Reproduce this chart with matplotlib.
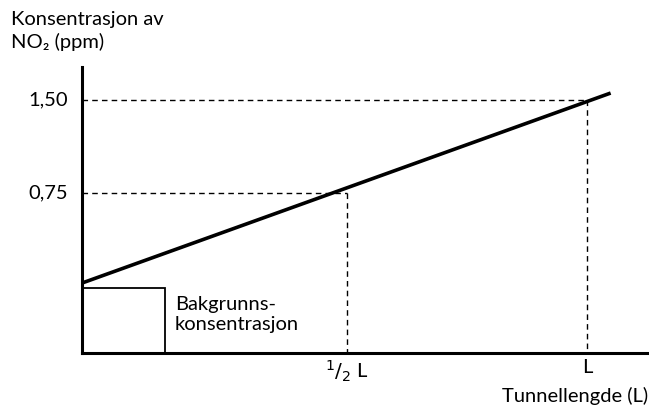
import matplotlib
matplotlib.use("Agg")
import matplotlib.pyplot as plt
from matplotlib.patches import Rectangle

plt.rcParams['font.family'] = ['Lato', 'DejaVu Sans']

# Data (x in units of tunnel length L, y in ppm)
line_x = [0.0, 1.047]
line_y = [0.024, 1.556]
y_ticks = [0.75, 1.50]
y_tick_labels = ["0,75", "1,50"]
x_marks = [0.525, 1.0]
x_mark_labels = ["$^1/_2$ L", "L"]
background_width = 0.164
background_top = -0.016

FS = 14.5

fig = plt.figure(figsize=(6.49, 4.09), dpi=100)
ax = fig.add_axes([82/649, (409-353)/409, 566/649, 286/409])
ax.set_xlim(0, 1.121)
ax.set_ylim(-0.54, 1.766)

for s in ['top', 'right']:
    ax.spines[s].set_visible(False)
for s in ['left', 'bottom']:
    ax.spines[s].set_linewidth(2.2)
ax.set_xticks([])
ax.set_yticks([])

ax.plot(line_x, line_y, color='black', lw=2.6, solid_capstyle='butt')

# Dashed guides
for xm, yt in zip(x_marks, y_ticks):
    ax.plot([0, xm], [yt, yt], color='black', lw=1.0, ls=(0, (4, 3)))
    ax.plot([xm, xm], [yt, -0.54], color='black', lw=1.0, ls=(0, (4, 3)))

ax.add_patch(Rectangle((0, -0.54), background_width, background_top + 0.54,
                       fill=False, edgecolor='black', lw=1.3))
ax.text(0.184, -0.08, "Bakgrunns-\nkonsentrasjon", ha='left', va='top',
        fontsize=FS, linespacing=1.2)

for yt, lab in zip(y_ticks, y_tick_labels):
    ax.text(-0.028, yt, lab, ha='right', va='center', fontsize=FS)
for xm, lab in zip(x_marks, x_mark_labels):
    ax.text(xm, -0.59, lab, ha='center', va='top', fontsize=FS,
            math_fontfamily='dejavusans')

fig.text(11/649, 1 - 11/409, "Konsentrasjon av\nNO₂ (ppm)", ha='left', va='top',
         fontsize=FS, linespacing=1.3)
fig.text(648/649, 1 - 387/409, "Tunnellengde (L)", ha='right', va='top', fontsize=FS)

fig.savefig("out.png", dpi=100)
